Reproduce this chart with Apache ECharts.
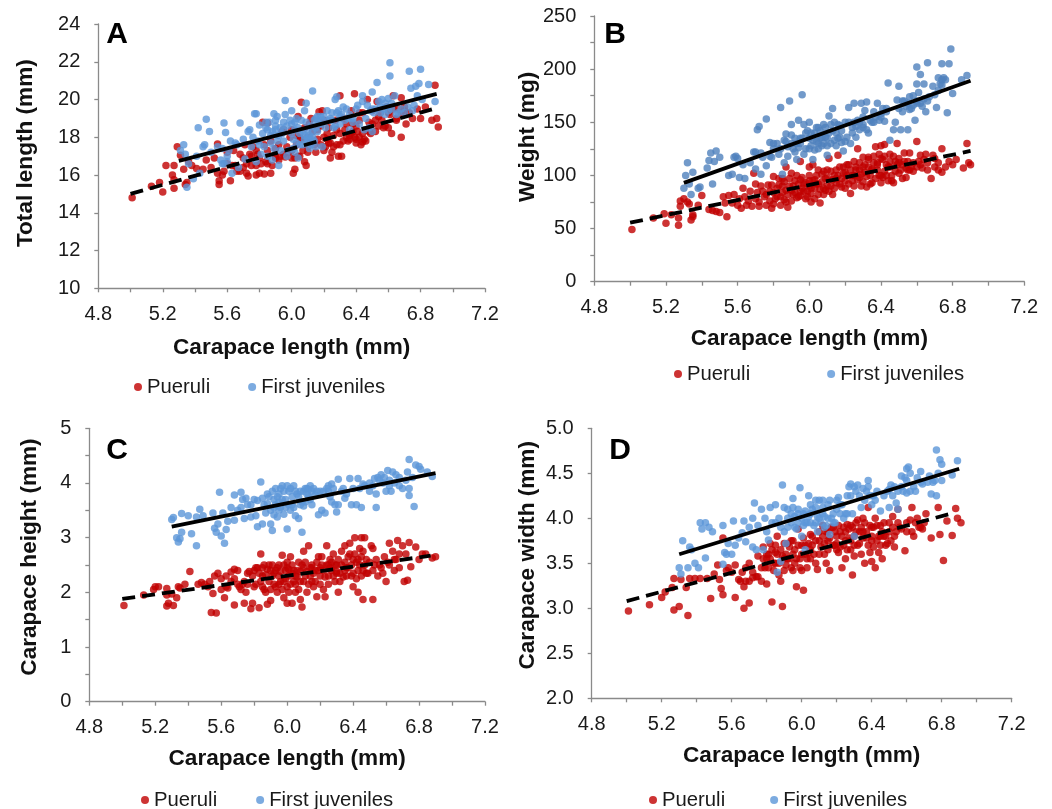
<!DOCTYPE html>
<html><head><meta charset="utf-8">
<script src="https://cdn.jsdelivr.net/npm/echarts@6/dist/echarts.min.js"></script>
<style>html,body{margin:0;background:#fff}#c{width:1052px;height:809px}</style></head>
<body><div id="c"></div><script>
const xLabel='Carapace length (mm)';
const seriesNames=['Pueruli','First juveniles'];
const puerA=[[5.01,14.8],[5.13,15.4],[5.2,15.1],[5.18,15.6],[5.22,16.5],[5.27,16.5],[5.26,16.0],[5.27,15.75],[5.27,15.3],[5.29,17.5],[5.31,17.05],[5.33,16.3],[5.35,15.6],[5.34,15.5],[5.36,16.7],[5.38,16.5],[5.41,16.35],[5.45,16.3],[5.47,16.8],[5.5,16.4],[5.52,16.9],[5.54,17.65],[5.54,16.1],[5.55,15.7],[5.55,15.5],[5.57,16.0],[5.58,16.2],[5.6,16.6],[5.62,15.7],[5.63,16.5],[5.64,17.3],[5.66,16.2],[5.68,17.1],[5.68,16.2],[5.7,16.4],[5.71,17.6],[5.72,16.1],[5.73,15.95],[5.74,17.1],[5.75,16.5],[5.76,17.5],[5.78,16.0],[5.78,16.5],[5.79,17.1],[5.8,16.1],[5.81,16.6],[5.82,18.8],[5.83,16.05],[5.84,16.7],[5.85,17.3],[5.85,18.75],[5.87,16.1],[5.88,16.5],[5.9,17.0],[5.92,17.6],[5.93,17.0],[5.95,18.4],[5.95,17.1],[5.97,17.5],[5.99,18.0],[6.0,16.9],[6.01,16.1],[6.02,16.3],[6.03,17.6],[6.04,19.1],[6.05,18.0],[6.07,17.3],[6.06,19.85],[6.08,16.7],[6.09,16.5],[6.1,18.0],[6.1,17.5],[6.11,18.7],[6.12,17.8],[6.13,18.3],[6.15,17.2],[6.16,17.9],[6.17,19.35],[6.18,18.6],[6.19,19.4],[6.2,18.0],[6.21,17.5],[6.22,17.9],[6.23,18.5],[6.24,16.9],[6.25,17.2],[6.26,17.5],[6.27,18.9],[6.28,18.4],[6.29,17.0],[6.3,17.6],[6.3,20.2],[6.31,17],[6.32,19],[6.33,18.4],[6.35,17.8],[6.36,18.1],[6.37,19.4],[6.38,18.7],[6.39,20.3],[6.4,17.9],[6.41,18.3],[6.42,18.9],[6.43,17.6],[6.44,19.3],[6.45,17.9],[6.46,18.4],[6.47,20.0],[6.48,18.8],[6.49,18.2],[6.5,19.4],[6.52,18.9],[6.53,19.9],[6.54,18.6],[6.55,19.3],[6.57,18.5],[6.59,19.6],[6.6,18.5],[6.61,19.2],[6.62,18.2],[6.63,20.2],[6.65,19.0],[6.66,19.5],[6.68,18.0],[6.68,20.1],[6.7,19.4],[6.71,18.7],[6.73,19.3],[6.75,19.0],[6.78,19.5],[6.8,19.0],[6.83,19.6],[6.87,18.9],[6.89,20.75],[6.9,19.0],[6.91,18.55],[6.34,18.0],[6.37,18.2],[6.39,18.0],[6.42,18.0],[6.44,17.75],[6.2,17.3],[6.23,17.7],[6.05,17.0],[6.0,17.3],[5.9,16.9]];
const puerA2=[[5.6,17.2],[5.65,16.5],[5.7,16.9],[5.72,16.6],[5.75,17.0],[5.78,17.3],[5.8,16.9],[5.83,17.6],[5.85,16.6],[5.87,17.8],[5.9,17.4],[5.92,16.8],[5.94,18.3],[5.96,16.95],[5.98,17.2],[6.0,18.4],[6.02,16.9],[6.03,18.1],[6.04,17.0],[6.06,17.9],[6.08,18.5],[6.1,17.2],[6.12,19.0],[6.14,17.6],[6.16,18.4],[6.18,17.6],[6.2,18.9],[6.22,18.2],[6.24,17.7],[6.26,18.1],[6.28,17.6],[6.3,18.2],[6.32,17.8],[6.34,18.7],[6.36,17.9],[6.38,18.3],[6.4,18.6],[6.4,17.7],[6.42,19.3],[6.44,18.2],[6.46,17.8],[6.48,18.3],[6.5,18.7],[6.52,18.3],[6.54,19.1],[6.56,18.9],[6.58,18.6],[6.6,19.3],[6.63,19.5],[6.65,18.9],[6.68,19.3],[6.7,19.6]];
const juvA=[[5.33,17.6],[5.31,17.3],[5.34,17.1],[5.35,15.35],[5.36,16.6],[5.39,15.8],[5.41,17.0],[5.42,18.5],[5.43,16.1],[5.45,17.5],[5.46,17.6],[5.47,18.95],[5.49,18.3],[5.5,17.2],[5.54,17.5],[5.56,16.8],[5.57,17.4],[5.58,18.75],[5.58,16.6],[5.59,18.25],[5.6,17],[5.62,17.8],[5.63,16.1],[5.65,17.7],[5.67,16.4],[5.68,18.75],[5.7,17.9],[5.71,16.85],[5.73,18.3],[5.74,18.4],[5.75,17.5],[5.77,19.25],[5.78,19.25],[5.78,16.7],[5.79,17.8],[5.8,18.65],[5.81,17.1],[5.82,18.2],[5.83,17.5],[5.84,18.8],[5.85,17.0],[5.86,18.8],[5.87,17.7],[5.88,16.8],[5.89,19.25],[5.9,18.4],[5.91,19.1],[5.92,16.5],[5.93,17.3],[5.94,18.2],[5.95,18.8],[5.96,19.2],[5.97,17.0],[5.96,19.95],[6.0,19.4],[6.0,18.7],[6.01,17.9],[6.02,17.2],[6.03,19.0],[6.04,16.9],[6.05,18.2],[6.06,18.9],[6.07,17.6],[6.08,19.4],[6.09,19.8],[6.1,18],[6.11,17.4],[6.12,18.6],[6.13,20.45],[6.14,17.8],[6.15,19.0],[6.16,18.3],[6.18,19.1],[6.19,17.5],[6.21,18.5],[6.22,19.4],[6.24,19],[6.26,18.5],[6.27,20],[6.28,20.15],[6.29,19.4],[6.3,18.7],[6.32,19.6],[6.34,19.5],[6.36,18.4],[6.38,19],[6.4,19.5],[6.42,18.7],[6.44,19.9],[6.44,20.2],[6.46,19],[6.48,18.5],[6.5,20.4],[6.5,18.3],[6.51,19.3],[6.53,20.9],[6.55,19.6],[6.56,20],[6.58,19.2],[6.6,20.05],[6.61,21.95],[6.61,21.25],[6.62,19.5],[6.64,20.2],[6.66,19.3],[6.7,19.3],[6.73,21.5],[6.74,20.6],[6.76,19.7],[6.77,20.7],[6.78,20.2],[6.79,20.85],[6.8,21.6],[6.81,20],[6.85,20.8],[6.89,19.9],[5.9,18.6],[5.92,18.1],[5.88,18.3],[5.95,17.8],[6.02,18.4],[6.08,18.1],[6.1,17.8],[6.12,17.9],[6.13,18.0],[6.15,18.5],[6.18,18.7],[6.25,18.9],[6.3,19.1],[6.35,19.0],[6.5,19.5],[6.55,19.3],[6.6,19.4],[6.58,19.8]];
const juvA2=[[5.85,18.4],[5.87,18.1],[5.89,17.4],[5.9,18.9],[5.91,17.8],[5.93,18.5],[5.95,18.4],[5.97,18.6],[5.98,17.3],[5.99,18.9],[6.0,18.2],[6.01,17.4],[6.02,18.8],[6.03,17.7],[6.04,18.5],[6.05,17.6],[6.07,18.3],[6.08,17.9],[6.09,18.8],[6.1,18.4],[6.11,18.1],[6.12,17.6],[6.13,18.3],[6.14,18.9],[6.15,17.5],[6.16,19.1],[6.17,18.7],[6.19,18.9],[6.2,19.1],[6.23,18.9],[6.25,19.3],[6.27,18.6],[6.28,19.3],[6.31,19.2],[6.33,18.9],[6.36,19.2],[6.38,18.8],[6.41,19.7],[6.45,18.4],[6.47,19.7],[6.49,19.4],[6.52,19.5],[6.54,19.9],[6.57,19.5],[6.59,19.6],[6.62,19.8],[6.65,19.2],[6.68,19.5],[6.72,19.6],[6.75,19.4],[5.6,16.7],[5.57,16.6],[5.61,17.3],[5.66,17.6],[5.76,18.0],[5.8,17.6],[5.84,18.5]];
const trendSolidA=[[5.3,16.75],[6.9,20.3]];
const trendDashA=[[5.0,15.0],[6.9,19.55]];
const puerB=[[5.01,49],[5.13,60],[5.19,64],[5.2,55],[5.23,63],[5.27,60],[5.27,53],[5.28,76],[5.28,71],[5.3,78],[5.32,75],[5.33,73],[5.34,58],[5.35,63],[5.35,61],[5.38,72],[5.4,81],[5.44,68],[5.46,67],[5.48,66],[5.5,65],[5.52,80],[5.53,74],[5.54,61],[5.55,81],[5.57,74],[5.58,82],[5.6,72],[5.62,69],[5.63,88],[5.64,80],[5.66,76],[5.68,71],[5.69,102],[5.7,92],[5.71,84],[5.72,75],[5.73,90],[5.75,80],[5.76,72],[5.77,91],[5.78,85],[5.79,69],[5.8,99],[5.81,78],[5.82,88],[5.83,97],[5.84,72],[5.85,84],[5.86,94],[5.87,108],[5.87,75],[5.88,70],[5.89,90],[5.9,102],[5.91,82],[5.92,95],[5.93,100],[5.94,80],[5.95,113],[5.96,88],[5.97,92],[5.98,78],[5.99,85],[6.0,108],[6.0,95],[6.01,75],[6.02,110],[6.03,88],[6.04,100],[6.05,82],[6.06,74],[6.07,94],[6.08,104],[6.09,86],[6.1,105],[6.11,116],[6.12,90],[6.13,82],[6.14,100],[6.15,105],[6.16,119],[6.17,92],[6.18,97],[6.19,108],[6.2,88],[6.21,100],[6.22,110],[6.23,83],[6.24,95],[6.25,113],[6.26,105],[6.27,125],[6.28,98],[6.29,90],[6.3,117],[6.31,103],[6.32,89],[6.33,108],[6.34,100],[6.35,93],[6.36,112],[6.37,127],[6.38,105],[6.39,120],[6.4,128],[6.41,98],[6.42,129],[6.43,110],[6.44,95],[6.45,120],[6.46,100],[6.47,93],[6.48,113],[6.49,130],[6.5,102],[6.52,110],[6.53,121],[6.54,98],[6.55,113],[6.56,121],[6.57,108],[6.58,104],[6.6,132],[6.61,113],[6.62,119],[6.63,107],[6.65,120],[6.66,105],[6.68,97],[6.69,119],[6.7,108],[6.72,112],[6.74,125],[6.74,103],[6.78,113],[6.8,110],[6.82,115],[6.86,107],[6.88,130],[6.89,112],[6.9,110],[5.9,86],[5.95,85],[6.0,90],[6.03,96],[6.05,92],[6.08,88],[6.1,98],[6.15,97],[6.2,103],[6.25,100],[6.3,108],[6.35,106],[6.38,112],[6.4,116],[6.42,104],[6.45,108],[6.5,112],[5.8,84],[5.85,90],[5.95,96],[6.28,105],[6.33,115],[6.4,100],[6.55,105]];
const puerB2=[[5.61,78],[5.65,72],[5.67,85],[5.7,78],[5.72,71],[5.74,85],[5.76,82],[5.78,76],[5.79,91],[5.8,73],[5.82,80],[5.83,91],[5.84,80],[5.85,97],[5.86,77],[5.87,86],[5.88,82],[5.89,97],[5.9,76],[5.91,90],[5.92,84],[5.93,79],[5.94,92],[5.95,81],[5.96,98],[5.97,85],[5.98,93],[5.99,80],[6.0,100],[6.01,88],[6.01,83],[6.02,95],[6.03,78],[6.04,92],[6.05,105],[6.06,87],[6.07,101],[6.08,82],[6.09,97],[6.1,90],[6.11,85],[6.12,104],[6.13,96],[6.14,88],[6.15,93],[6.16,100],[6.17,108],[6.18,89],[6.19,102],[6.2,95],[6.21,110],[6.22,92],[6.23,105],[6.24,100],[6.25,90],[6.26,108],[6.27,96],[6.28,112],[6.29,101],[6.3,94],[6.31,110],[6.32,99],[6.33,117],[6.34,92],[6.35,105],[6.36,118],[6.37,97],[6.38,110],[6.39,100],[6.4,93],[6.41,115],[6.42,118],[6.43,100],[6.44,108],[6.45,113],[6.46,95],[6.47,118],[6.48,104],[6.49,110],[6.5,116],[6.51,105],[6.52,97],[6.53,113],[6.54,107],[6.56,105],[6.58,112],[6.6,108],[6.62,110],[6.64,115],[6.66,112],[6.7,116],[6.72,105],[6.76,108]];
const juvB=[[5.3,88],[5.31,100],[5.32,112],[5.33,92],[5.34,82],[5.35,103],[5.38,88],[5.39,89],[5.43,107],[5.44,114],[5.45,121],[5.46,92],[5.47,113],[5.48,123],[5.5,117],[5.55,100],[5.57,101],[5.58,117],[5.59,118],[5.6,116],[5.61,98],[5.63,110],[5.64,97],[5.67,112],[5.69,122],[5.7,122],[5.7,106],[5.73,121],[5.73,101],[5.74,117],[5.71,143],[5.72,146],[5.76,109],[5.78,131],[5.76,153],[5.79,117],[5.8,125],[5.82,130],[5.83,120],[5.84,164],[5.85,101],[5.86,112],[5.87,132],[5.87,139],[5.88,118],[5.89,170],[5.9,148],[5.91,125],[5.92,135],[5.93,115],[5.94,152],[5.95,130],[5.96,176],[5.97,148],[5.98,125],[5.99,142],[6.0,150],[6.01,128],[6.02,115],[6.03,140],[6.04,132],[6.05,145],[6.06,135],[6.07,128],[6.08,148],[6.09,136],[6.1,119],[6.11,156],[6.12,130],[6.13,142],[6.14,150],[6.13,163],[6.16,135],[6.17,147],[6.18,131],[6.19,123],[6.2,150],[6.21,136],[6.22,164],[6.23,130],[6.24,145],[6.25,168],[6.26,136],[6.27,152],[6.28,143],[6.29,168],[6.3,148],[6.31,161],[6.32,169],[6.33,140],[6.35,150],[6.36,160],[6.37,155],[6.38,168],[6.39,152],[6.41,163],[6.42,151],[6.43,160],[6.44,187],[6.45,133],[6.47,143],[6.48,150],[6.49,171],[6.5,184],[6.51,143],[6.52,160],[6.53,170],[6.54,165],[6.55,143],[6.56,174],[6.57,163],[6.58,175],[6.59,152],[6.6,202],[6.6,186],[6.61,178],[6.62,195],[6.63,165],[6.64,186],[6.65,160],[6.66,206],[6.67,174],[6.69,184],[6.71,164],[6.72,180],[6.73,186],[6.74,205],[6.75,192],[6.76,190],[6.77,159],[6.78,205],[6.79,219],[6.8,177],[6.85,190],[6.88,194],[5.9,130],[5.95,135],[6.0,135],[6.05,130],[6.1,135],[6.15,140],[6.25,150],[6.3,145],[6.4,158],[6.55,168],[6.6,168]];
const juvB2=[[5.78,118],[5.8,130],[5.84,125],[5.86,133],[5.88,127],[5.9,138],[5.92,122],[5.93,130],[5.94,126],[5.96,135],[5.97,120],[5.98,140],[6.0,125],[6.01,140],[6.02,133],[6.03,124],[6.04,145],[6.05,125],[6.06,142],[6.07,136],[6.08,130],[6.09,145],[6.1,128],[6.11,140],[6.12,148],[6.14,133],[6.15,128],[6.16,148],[6.17,136],[6.18,142],[6.2,132],[6.22,150],[6.24,140],[6.26,146],[6.28,150],[6.3,155],[6.32,143],[6.34,152],[6.36,150],[6.4,155],[6.43,163],[6.5,163],[6.52,170],[6.56,162],[6.58,166],[6.6,170],[6.62,168],[6.64,172],[6.66,170],[6.7,176],[6.72,192],[6.74,185],[6.74,190]];
const trendSolidB=[[5.3,93],[6.9,189]];
const trendDashB=[[5.0,55.5],[6.9,123]];
const puerC=[[5.01,1.76],[5.13,1.95],[5.19,2.05],[5.2,2.1],[5.22,2.1],[5.27,2.07],[5.27,1.75],[5.27,1.95],[5.28,1.8],[5.3,1.97],[5.31,1.76],[5.33,1.9],[5.34,2.1],[5.35,2.08],[5.38,2.15],[5.41,2.38],[5.46,2.15],[5.48,2.18],[5.5,2.15],[5.52,2.1],[5.53,2.2],[5.54,1.63],[5.55,1.98],[5.56,2.3],[5.57,1.62],[5.58,2.35],[5.6,2.05],[5.62,1.9],[5.63,2.3],[5.64,2.08],[5.66,2.37],[5.68,1.77],[5.68,2.25],[5.7,2.4],[5.71,2.1],[5.73,2.15],[5.74,1.8],[5.75,2.0],[5.76,2.35],[5.78,1.7],[5.79,1.8],[5.8,2.4],[5.81,2.15],[5.82,2.45],[5.83,1.72],[5.84,2.7],[5.85,2.3],[5.86,2.05],[5.87,2.0],[5.88,1.78],[5.89,2.5],[5.9,1.85],[5.91,2.3],[5.92,2.15],[5.93,2.4],[5.94,2.0],[5.95,2.5],[5.96,2.2],[5.97,2.68],[5.98,1.9],[5.99,2.4],[6.0,2.1],[6.0,1.8],[6.01,2.3],[6.02,2.65],[6.03,1.8],[6.04,2.2],[6.05,2.0],[6.06,2.4],[6.07,2.55],[6.08,1.87],[6.09,1.73],[6.1,2.75],[6.11,2.3],[6.12,2.0],[6.13,2.85],[6.14,2.45],[6.15,2.2],[6.16,2.1],[6.17,2.4],[6.18,1.92],[6.19,2.65],[6.2,2.3],[6.21,2.5],[6.22,2.05],[6.23,1.92],[6.24,2.85],[6.25,2.3],[6.26,2.6],[6.27,2.4],[6.28,2.7],[6.29,2.2],[6.3,2.5],[6.31,2.0],[6.32,2.35],[6.33,2.75],[6.35,2.85],[6.36,2.45],[6.37,2.65],[6.38,2.9],[6.39,2.3],[6.4,2.1],[6.41,3.0],[6.42,2.55],[6.43,2.0],[6.44,2.8],[6.45,3.0],[6.46,2.4],[6.47,3.0],[6.46,1.87],[6.48,2.6],[6.49,2.35],[6.51,2.85],[6.52,1.87],[6.52,2.8],[6.53,2.5],[6.55,2.3],[6.57,2.45],[6.59,2.65],[6.6,2.2],[6.61,2.55],[6.62,2.9],[6.64,2.75],[6.65,2.4],[6.66,2.6],[6.67,2.95],[6.68,2.45],[6.7,2.85],[6.71,2.2],[6.72,2.7],[6.73,2.22],[6.74,2.91],[6.75,2.47],[6.78,2.83],[6.8,2.6],[6.82,2.7],[6.84,2.7],[6.88,2.63],[6.9,2.65],[5.95,2.3],[5.98,2.2],[6.0,2.45],[6.03,2.35],[6.05,2.3],[6.08,2.2],[6.1,2.45],[6.15,2.5],[6.2,2.45],[6.25,2.5],[6.3,2.35],[6.35,2.4],[6.4,2.6],[6.43,2.4],[6.45,2.65],[5.9,2.4],[5.85,2.45]];
const puerC2=[[5.6,2.25],[5.63,2.1],[5.66,2.2],[5.68,2.42],[5.7,2.15],[5.72,2.05],[5.74,2.2],[5.76,2.15],[5.77,2.38],[5.79,2.3],[5.8,2.1],[5.81,2.45],[5.83,2.35],[5.84,2.2],[5.85,2.1],[5.86,2.5],[5.87,2.32],[5.88,2.42],[5.89,2.2],[5.9,2.05],[5.91,2.5],[5.92,2.35],[5.93,2.1],[5.94,2.45],[5.95,2.15],[5.96,2.38],[5.97,2.05],[5.98,2.5],[5.99,2.25],[6.0,2.55],[6.01,2.0],[6.01,2.42],[6.02,2.15],[6.03,2.5],[6.04,2.4],[6.05,2.15],[6.06,2.28],[6.07,2.05],[6.08,2.38],[6.09,2.5],[6.1,2.2],[6.11,2.55],[6.12,2.38],[6.13,2.15],[6.14,2.3],[6.15,2.45],[6.16,2.35],[6.17,2.2],[6.18,2.55],[6.19,2.4],[6.2,2.15],[6.21,2.65],[6.22,2.4],[6.23,2.28],[6.24,2.5],[6.25,2.15],[6.26,2.45],[6.27,2.55],[6.28,2.3],[6.29,2.5],[6.3,2.38],[6.31,2.6],[6.32,2.2],[6.33,2.5],[6.34,2.28],[6.35,2.55],[6.36,2.3],[6.37,2.45],[6.38,2.7],[6.39,2.5],[6.4,2.35],[6.41,2.7],[6.42,2.25],[6.43,2.6],[6.44,2.5],[6.45,2.3],[6.46,2.75],[6.47,2.5],[6.48,2.35],[6.5,2.55],[6.52,2.4],[6.54,2.6],[6.56,2.5],[6.58,2.35],[6.62,2.5],[6.65,2.6],[6.68,2.7]];
const juvC=[[5.3,3.33],[5.31,3.37],[5.33,3.0],[5.34,2.92],[5.35,2.98],[5.36,3.1],[5.36,3.44],[5.4,3.4],[5.42,3.07],[5.45,2.85],[5.45,3.38],[5.47,3.52],[5.49,3.4],[5.55,3.45],[5.56,3.17],[5.57,3.1],[5.58,3.25],[5.59,3.83],[5.6,3.03],[5.61,3.45],[5.62,2.9],[5.63,3.15],[5.64,3.3],[5.66,3.55],[5.68,3.32],[5.68,3.78],[5.7,3.5],[5.72,3.83],[5.73,3.7],[5.74,3.35],[5.76,3.6],[5.78,3.38],[5.8,3.7],[5.81,3.4],[5.82,3.2],[5.84,4.02],[5.85,3.25],[5.86,3.6],[5.88,3.8],[5.9,3.25],[5.9,3.5],[5.91,3.13],[5.92,3.7],[5.93,3.9],[5.94,3.38],[5.95,3.8],[5.96,3.55],[5.97,3.95],[5.98,3.43],[5.99,3.7],[6.0,3.16],[6.0,3.95],[6.01,3.85],[6.02,3.5],[6.03,3.6],[6.04,3.95],[6.05,3.4],[6.06,3.8],[6.07,3.35],[6.08,3.6],[6.09,3.1],[6.1,3.85],[6.11,3.65],[6.12,3.9],[6.13,3.75],[6.14,3.95],[6.15,3.6],[6.16,3.9],[6.19,3.42],[6.2,3.85],[6.21,3.5],[6.23,3.45],[6.24,3.9],[6.26,3.75],[6.27,3.65],[6.28,3.9],[6.3,3.47],[6.31,3.6],[6.31,4.07],[6.34,3.9],[6.35,3.72],[6.38,4.08],[6.39,3.6],[6.42,3.6],[6.43,4.08],[6.44,3.9],[6.45,3.55],[6.47,3.95],[6.5,3.85],[6.52,3.95],[6.54,3.55],[6.54,3.8],[6.55,4.1],[6.57,4.15],[6.58,4.0],[6.6,3.85],[6.61,4.23],[6.62,4.05],[6.63,3.85],[6.64,4.2],[6.66,4.15],[6.68,3.95],[6.7,3.9],[6.73,4.2],[6.74,3.9],[6.74,4.43],[6.74,3.77],[6.77,3.57],[6.78,4.33],[6.8,4.3],[6.81,4.25],[6.85,4.2],[6.88,4.12],[6.12,3.8],[6.08,3.85],[5.95,3.65],[5.92,3.55],[6.25,3.85]];
const juvC2=[[5.72,3.55],[5.75,3.72],[5.78,3.6],[5.82,3.68],[5.85,3.72],[5.87,3.45],[5.88,3.62],[5.89,3.75],[5.91,3.85],[5.92,3.42],[5.93,3.6],[5.94,3.75],[5.95,3.5],[5.96,3.9],[5.97,3.7],[5.98,3.85],[5.99,3.55],[6.01,3.6],[6.02,3.9],[6.03,3.75],[6.04,3.55],[6.05,3.85],[6.07,3.75],[6.09,3.65],[6.1,3.58],[6.11,3.9],[6.13,3.88],[6.14,3.7],[6.15,3.85],[6.17,3.78],[6.18,3.85],[6.22,3.85],[6.25,3.95],[6.27,3.98],[6.29,3.6],[6.33,3.85],[6.36,3.8],[6.4,3.9],[6.46,3.98],[6.5,4.0],[6.53,4.08],[6.56,4.05],[6.59,4.1],[6.62,3.95],[6.65,4.0],[6.68,4.1],[6.72,4.05],[6.76,4.1]];
const trendSolidC=[[5.3,3.2],[6.9,4.18]];
const trendDashC=[[5.0,1.88],[6.87,2.67]];
const puerD=[[5.01,2.97],[5.13,3.04],[5.2,3.12],[5.22,3.18],[5.26,3.23],[5.27,2.98],[5.27,3.33],[5.3,3.02],[5.31,3.32],[5.34,3.23],[5.35,2.92],[5.36,3.33],[5.39,3.33],[5.42,3.33],[5.46,3.33],[5.48,3.11],[5.5,3.38],[5.52,3.48],[5.53,3.32],[5.54,3.22],[5.55,3.78],[5.55,3.15],[5.57,3.42],[5.58,3.45],[5.6,3.4],[5.62,3.12],[5.62,3.48],[5.64,3.32],[5.66,3.4],[5.67,3.24],[5.67,3.0],[5.68,3.3],[5.7,3.06],[5.7,3.5],[5.72,3.34],[5.74,3.35],[5.75,3.58],[5.77,3.3],[5.78,3.68],[5.79,3.45],[5.8,3.27],[5.81,3.6],[5.82,3.72],[5.83,3.07],[5.84,3.5],[5.85,3.62],[5.86,3.8],[5.87,3.37],[5.88,3.3],[5.89,3.02],[5.9,3.42],[5.91,3.6],[5.92,3.72],[5.93,3.55],[5.94,3.45],[5.95,3.75],[5.96,3.5],[5.97,3.24],[5.98,3.88],[5.99,3.45],[6.0,3.6],[6.01,3.2],[6.02,3.7],[6.03,3.45],[6.04,3.62],[6.05,3.82],[6.06,3.7],[6.08,3.5],[6.09,3.43],[6.1,3.75],[6.12,3.92],[6.13,3.6],[6.14,3.5],[6.15,3.75],[6.16,3.42],[6.18,3.9],[6.19,3.7],[6.2,3.8],[6.21,3.62],[6.22,3.85],[6.23,3.45],[6.24,3.7],[6.25,3.55],[6.26,3.93],[6.27,3.78],[6.28,3.65],[6.29,3.37],[6.3,3.58],[6.31,3.95],[6.32,3.7],[6.33,3.85],[6.34,3.6],[6.35,4.0],[6.36,3.5],[6.37,3.78],[6.38,4.12],[6.39,3.62],[6.4,3.52],[6.41,3.9],[6.42,4.0],[6.42,3.45],[6.43,3.75],[6.44,3.62],[6.45,3.92],[6.46,3.55],[6.47,3.8],[6.48,3.7],[6.5,3.95],[6.51,3.75],[6.52,4.02],[6.53,3.68],[6.54,3.85],[6.55,4.1],[6.56,3.9],[6.59,3.64],[6.6,3.85],[6.62,3.98],[6.63,4.12],[6.64,3.8],[6.66,4.0],[6.68,3.9],[6.7,3.95],[6.71,4.05],[6.74,3.78],[6.78,4.12],[6.79,3.82],[6.81,3.53],[6.83,3.97],[6.86,3.81],[6.88,4.11],[6.89,4.0],[6.91,3.95],[5.95,3.6],[6.0,3.7],[6.05,3.55],[6.1,3.6],[6.15,3.85],[6.25,3.85],[6.3,3.8],[6.35,3.85],[6.4,3.75],[6.45,3.8],[5.85,3.5],[5.8,3.55],[5.9,3.55],[6.2,3.65],[6.28,3.92],[6.4,3.9]];
const puerD2=[[5.65,3.3],[5.68,3.45],[5.7,3.3],[5.72,3.4],[5.75,3.35],[5.77,3.45],[5.78,3.55],[5.8,3.6],[5.81,3.45],[5.82,3.55],[5.83,3.65],[5.84,3.42],[5.85,3.7],[5.86,3.6],[5.87,3.5],[5.88,3.65],[5.89,3.58],[5.9,3.72],[5.91,3.48],[5.92,3.55],[5.93,3.68],[5.94,3.75],[5.95,3.42],[5.96,3.65],[5.97,3.55],[5.98,3.7],[5.99,3.55],[6.0,3.42],[6.01,3.78],[6.02,3.6],[6.03,3.55],[6.04,3.72],[6.05,3.65],[6.06,3.8],[6.07,3.6],[6.08,3.75],[6.1,3.85],[6.11,3.68],[6.12,3.8],[6.13,3.72],[6.14,3.85],[6.15,3.65],[6.16,3.78],[6.17,3.9],[6.18,3.7],[6.19,3.85],[6.2,3.72],[6.21,3.92],[6.22,3.68],[6.23,3.8],[6.24,3.9],[6.25,3.75],[6.26,3.65],[6.27,3.88],[6.28,3.75],[6.29,3.9],[6.3,3.7],[6.31,3.85],[6.32,3.98],[6.33,3.72],[6.34,3.9],[6.35,3.78],[6.36,3.95],[6.37,3.85],[6.38,3.7],[6.39,3.92],[6.4,3.8],[6.41,3.68],[6.43,3.92],[6.44,3.8],[6.45,3.7],[6.46,3.85],[6.47,3.95],[6.48,3.8],[6.49,3.72],[6.5,3.85],[6.52,3.9],[6.53,3.8],[6.55,3.95],[6.57,3.88],[6.6,3.95],[6.63,3.85],[6.65,3.95],[6.67,3.9],[6.69,3.88]];
const juvD=[[5.3,3.45],[5.31,3.38],[5.32,3.75],[5.35,3.45],[5.36,3.68],[5.37,3.65],[5.39,3.5],[5.41,3.45],[5.42,3.95],[5.43,3.88],[5.45,3.95],[5.45,3.56],[5.47,3.9],[5.49,3.85],[5.55,3.92],[5.55,3.49],[5.56,3.62],[5.57,3.6],[5.58,3.72],[5.6,3.6],[5.61,3.97],[5.62,3.7],[5.64,3.78],[5.66,3.84],[5.67,3.97],[5.68,3.74],[5.7,3.9],[5.72,4.0],[5.72,3.68],[5.73,4.17],[5.74,3.65],[5.75,3.92],[5.77,4.1],[5.78,3.65],[5.79,4.0],[5.81,3.76],[5.82,4.12],[5.83,3.95],[5.85,4.15],[5.86,3.4],[5.87,4.0],[5.88,3.52],[5.89,4.37],[5.9,4.12],[5.91,3.72],[5.92,3.9],[5.94,4.05],[5.95,4.22],[5.96,3.9],[5.98,3.95],[5.99,4.34],[6.0,3.8],[6.01,4.05],[6.02,3.65],[6.04,4.25],[6.05,3.95],[6.06,4.1],[6.08,4.2],[6.09,3.85],[6.1,4.0],[6.12,4.2],[6.13,3.9],[6.15,4.0],[6.16,3.82],[6.16,4.2],[6.18,4.05],[6.2,4.1],[6.21,4.23],[6.23,4.15],[6.25,4.05],[6.26,4.25],[6.27,4.35],[6.28,4.38],[6.29,4.05],[6.3,3.8],[6.32,4.37],[6.34,4.12],[6.35,4.33],[6.37,4.3],[6.38,4.42],[6.4,4.15],[6.41,4.25],[6.43,4.3],[6.45,4.08],[6.49,4.3],[6.5,4.12],[6.51,4.37],[6.53,4.35],[6.54,4.17],[6.55,4.1],[6.57,4.47],[6.58,4.3],[6.59,4.45],[6.6,4.55],[6.61,4.57],[6.62,4.3],[6.64,4.35],[6.66,4.45],[6.68,4.52],[6.69,4.38],[6.73,4.47],[6.74,4.27],[6.75,4.4],[6.77,4.76],[6.77,4.25],[6.79,4.65],[6.8,4.6],[6.8,4.42],[6.86,4.48],[6.89,4.64],[5.92,4.0],[5.98,4.05],[6.02,3.95],[6.05,4.05],[6.08,3.95],[6.12,4.05],[6.18,3.95],[6.22,4.05]];
const juvD2=[[5.8,3.85],[5.85,3.95],[5.88,3.9],[5.9,3.85],[5.92,4.1],[5.94,3.95],[5.95,4.12],[5.96,4.02],[5.97,3.88],[5.98,4.1],[6.0,4.0],[6.01,3.92],[6.02,4.08],[6.03,3.95],[6.04,4.02],[6.05,4.15],[6.07,3.92],[6.08,4.12],[6.09,4.02],[6.1,4.2],[6.11,3.95],[6.12,4.12],[6.13,4.02],[6.14,3.92],[6.15,4.15],[6.17,4.0],[6.19,3.95],[6.2,4.2],[6.22,4.15],[6.24,4.0],[6.26,4.05],[6.28,4.25],[6.3,4.35],[6.31,4.3],[6.33,4.25],[6.36,4.2],[6.38,4.35],[6.39,4.25],[6.42,4.2],[6.47,4.25],[6.5,4.32],[6.52,4.25],[6.55,4.3],[6.57,4.35],[6.6,4.28],[6.6,4.42],[6.62,4.5],[6.65,4.3],[6.68,4.4],[6.72,4.4],[6.76,4.42],[6.78,4.5]];
const trendSolidD=[[5.3,3.6],[6.9,4.55]];
const trendDashD=[[5.0,3.08],[6.85,4.05]];
const yLabels=['Total length (mm)','Weight (mg)','Carapace height (mm)','Carapace width (mm)'];
const panelLetters=['A','B','C','D'];

const panels=[
 {g:[98.3,24,386.7,264.3],y:[10,24,2],minor:false,p:puerA.concat(puerA2),j:juvA.concat(juvA2),s:trendSolidA,h:trendDashA,yt:yLabels[0],l:panelLetters[0],lx:117,ly:33,leg:[134,377],gap:38,xGap:48,yGap:61,yShift:3,dig:0,blue:'#5B96D8'},
 {g:[594.3,16,430,265.7],y:[0,250,50],minor:true,p:puerB.concat(puerB2),j:juvB.concat(juvB2),s:trendSolidB,h:trendDashB,yt:yLabels[1],l:panelLetters[1],lx:615,ly:33,leg:[674,364],gap:77,xGap:46,yGap:55,yShift:12,dig:0,blue:'#4F81BD'},
 {g:[89.3,428.3,395.7,273.4],y:[0,5,1],minor:true,p:puerC.concat(puerC2),j:juvC.concat(juvC2),s:trendSolidC,h:trendDashC,yt:yLabels[2],l:panelLetters[2],lx:117,ly:449,leg:[141,790],gap:39,xGap:46,yGap:48,yShift:8,dig:0,blue:'#5B96D8'},
 {g:[591.7,428.3,420,270],y:[2,5,0.5],minor:false,p:puerD.concat(puerD2),j:juvD.concat(juvD2),s:trendSolidD,h:trendDashD,yt:yLabels[3],l:panelLetters[3],lx:620,ly:449,leg:[649,790],gap:45,xGap:46,yGap:52,yShift:8,dig:1,blue:'#5B96D8'}
];
const FONT='"Liberation Sans",Arial,sans-serif';
const axisCommon={axisLine:{onZero:false,lineStyle:{color:'#8a8a8a',width:1.3}},axisTick:{show:true,length:4,lineStyle:{color:'#8a8a8a',width:1.3}},splitLine:{show:false},axisLabel:{color:'#1a1a1a',fontSize:20,fontFamily:FONT}};
const opt={animation:false,backgroundColor:'#fff',grid:[],xAxis:[],yAxis:[],series:[],legend:[],title:[]};
panels.forEach((p,i)=>{
 opt.grid.push({left:p.g[0],top:p.g[1],width:p.g[2],height:p.g[3]});
 opt.xAxis.push({...axisCommon,type:'value',gridIndex:i,min:4.8,max:7.2,interval:0.4,
  minorTick:{show:true,splitNumber:2,length:4,lineStyle:{color:'#8a8a8a',width:1.3}},
  axisLabel:{...axisCommon.axisLabel,margin:16,formatter:v=>v.toFixed(1)},
  name:xLabel,nameLocation:'middle',nameGap:p.xGap,nameTextStyle:{fontSize:22.6,fontWeight:'bold',color:'#111',fontFamily:FONT}});
 opt.yAxis.push({...axisCommon,type:'value',gridIndex:i,min:p.y[0],max:p.y[1],interval:p.y[2],
  minorTick:{show:p.minor,splitNumber:2,length:4,lineStyle:{color:'#8a8a8a',width:1.3}},
  axisLabel:{...axisCommon.axisLabel,margin:18,formatter:v=>v.toFixed(p.dig)},
  name:p.yt,nameLocation:'middle',nameGap:p.yGap,nameTextStyle:{fontSize:22.6,fontWeight:'bold',color:'#111',fontFamily:FONT,padding:[0,0,0,p.yShift*2]}});
 opt.series.push({name:seriesNames[0],type:'scatter',xAxisIndex:i,yAxisIndex:i,data:p.p,symbolSize:7.5,itemStyle:{color:'#C00000'},z:2});
 opt.series.push({name:seriesNames[1],type:'scatter',xAxisIndex:i,yAxisIndex:i,data:p.j,symbolSize:7.5,itemStyle:{color:p.blue},z:3});
 opt.series.push({name:'trend '+p.l+' solid',type:'line',xAxisIndex:i,yAxisIndex:i,data:p.s,symbol:'none',lineStyle:{color:'#000',width:3.8},z:4});
 opt.series.push({name:'trend '+p.l+' dashed',type:'line',xAxisIndex:i,yAxisIndex:i,data:p.h,symbol:'none',lineStyle:{color:'#000',width:3.8,type:[13,7]},z:4});
 opt.legend.push({data:seriesNames,left:p.leg[0],top:p.leg[1],itemWidth:8,itemHeight:8,itemGap:p.gap,icon:'circle',padding:0,selectedMode:false,textStyle:{fontSize:20.3,color:'#1a1a1a',fontFamily:FONT}});
 opt.title.push({text:p.l,left:p.lx,top:p.ly+2,textAlign:'center',textVerticalAlign:'middle',padding:0,textStyle:{fontSize:30,fontWeight:'bold',color:'#000',fontFamily:FONT}});
});
echarts.init(document.getElementById('c'),null,{renderer:'canvas'}).setOption(opt);
</script></body></html>
